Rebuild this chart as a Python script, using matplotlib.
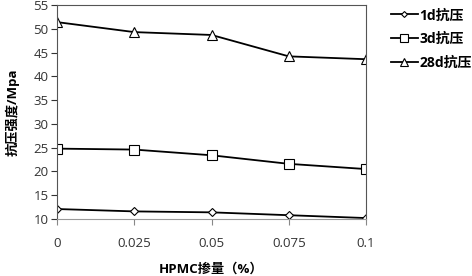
import matplotlib
matplotlib.use("Agg")
import matplotlib.pyplot as plt

plt.rcParams['font.family'] = ['Open Sans', 'Noto Sans CJK SC', 'DejaVu Sans']

x = [0, 0.025, 0.05, 0.075, 0.1]
x_labels = ['0', '0.025', '0.05', '0.075', '0.1']
s1d = [12.1, 11.6, 11.4, 10.8, 10.2]
s3d = [24.8, 24.6, 23.4, 21.6, 20.5]
s28d = [51.4, 49.3, 48.7, 44.2, 43.6]
labels = ['1d抗压', '3d抗压', '28d抗压']

fig = plt.figure(figsize=(4.72, 2.76), dpi=100)
ax = fig.add_axes([0.1208, 0.2065, 0.6547, 0.7754])

ax.plot(x, s1d, color='black', lw=1.3, marker='D', ms=4, mfc='white', mec='black', mew=0.8, label=labels[0])
ax.plot(x, s3d, color='black', lw=1.3, marker='s', ms=7, mfc='white', mec='black', mew=0.8, label=labels[1])
ax.plot(x, s28d, color='black', lw=1.3, marker='^', ms=7, mfc='white', mec='black', mew=0.8, label=labels[2])

ax.set_xlim(0, 0.1)
ax.set_ylim(10, 55)
ax.set_xticks(x)
ax.set_xticklabels(x_labels)
ax.set_yticks(range(10, 56, 5))
ax.tick_params(axis='both', labelsize=9.5, colors='#333333', length=4, width=0.8, direction='out')
ax.tick_params(axis='x', pad=9, color='#888888')
ax.tick_params(axis='y', pad=2)
for sp in ['top', 'right']:
    ax.spines[sp].set_color('#555555')
    ax.spines[sp].set_linewidth(0.8)
ax.spines['left'].set_color('#555555')
ax.spines['left'].set_linewidth(0.8)
ax.spines['bottom'].set_color('#999999')
ax.spines['bottom'].set_linewidth(0.8)

ax.set_xlabel('HPMC掺量（%）', fontsize=9.5, fontweight='bold', labelpad=9)
ax.set_ylabel('抗压强度/Mpa', fontsize=9.5, fontweight='bold', labelpad=10)

leg = ax.legend(loc='upper left', bbox_to_anchor=(1.05, 1.03), frameon=False, fontsize=10,
                handlelength=1.9, handletextpad=0.15, labelspacing=0.7, borderaxespad=0.3,
                markerscale=0.75)
for t in leg.get_texts():
    t.set_fontweight('bold')

fig.savefig('out.png', dpi=100)
